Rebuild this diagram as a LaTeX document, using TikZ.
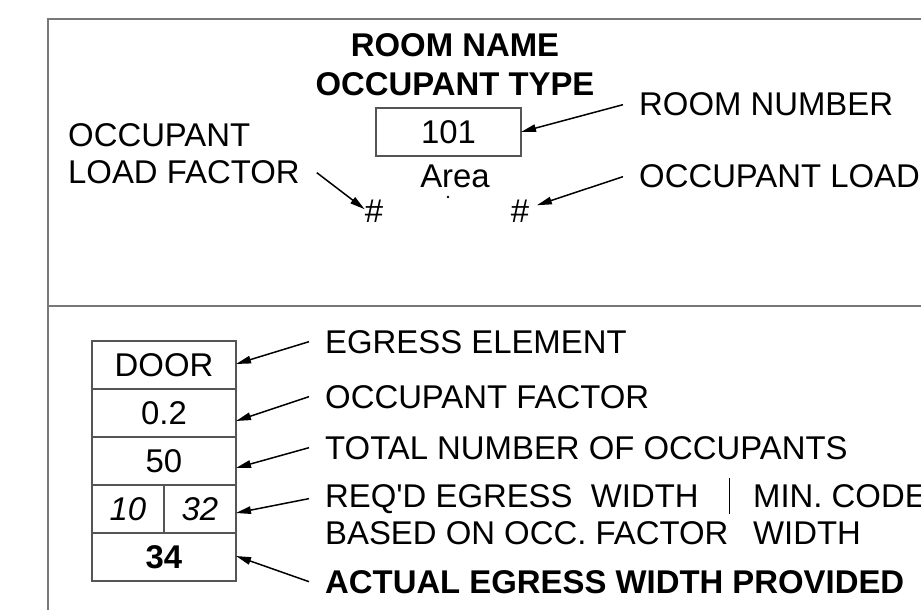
\documentclass[tikz,border=0pt]{standalone}
\usepackage{fontspec}
\setmainfont{Liberation Sans}
\usetikzlibrary{arrows.meta, positioning}
\definecolor{framecol}{RGB}{120,120,120}
\definecolor{cellcol}{RGB}{85,85,85}

\begin{document}
\begin{tikzpicture}[
  x=1bp, y=-1bp,
  lbl/.style={font=\fontsize{33}{39}\selectfont, inner sep=0pt},
  blbl/.style={font=\fontsize{33}{39}\selectfont\bfseries, inner sep=0pt},
  cell/.style={draw=cellcol, line width=1.2bp, inner sep=0pt, outer sep=0pt,
               minimum width=144bp, minimum height=48bp},
  ptr/.style={line width=1.5bp, -{Triangle[length=15bp, width=7.5bp]}}
]
  \useasboundingbox (0,0) rectangle (921,610);
  \clip (0,0) rectangle (921,610);

  % frame
  \draw[framecol, line width=1.8bp] (921,19) -- (48,19) -- (48,610);
  \draw[framecol, line width=1.8bp] (48,306) -- (921,306);

  % room tag
  \node[blbl, anchor=base] (roomname) at (455,57) {ROOM NAME};
  \node[blbl, anchor=base] (occtype) at (455,96) {OCCUPANT TYPE};
  \node[lbl, draw=cellcol, line width=1.1bp, outer sep=0pt,
        minimum width=145bp, minimum height=48bp] (numbox) at (448.5,132)
        {\raisebox{-3bp}{101}};
  \node[lbl, anchor=base] (area) at (455,188) {Area};
  \fill (448,197) circle (1.3bp);
  \node[lbl, anchor=base] (hashl) at (374,223) {\#};
  \node[lbl, anchor=base] (hashr) at (520,223) {\#};

  \node[lbl, anchor=base west] (occlbl) at (68,147) {OCCUPANT};
  \node[lbl, anchor=base west] (loadfac) at (68,184) {LOAD FACTOR};
  \node[lbl, anchor=base west] (roomnum) at (639,116) {ROOM NUMBER};
  \node[lbl, anchor=base west] (occload) at (639,188) {OCCUPANT LOAD};

  \draw[ptr] ([xshift=17bp]loadfac.east) -- ([yshift=2.5bp]hashl.west);
  \draw[ptr] ([xshift=-16bp]roomnum.west) -- (numbox.east);
  \draw[ptr] ([xshift=-16bp]occload.west) -- ([xshift=7.5bp, yshift=6.5bp]hashr.east);

  % egress tag
  \node[cell, lbl] (door) at (164,365) {DOOR};
  \node[cell, lbl, below=0bp of door] (factor) {0.2};
  \node[cell, lbl, below=0bp of factor] (total) {50};
  \node[cell, lbl, minimum width=72bp, below right=0bp and 0bp of total.south west,
        font=\fontsize{33}{39}\selectfont\itshape] (reqa) {10};
  \node[cell, lbl, minimum width=72bp, right=0bp of reqa,
        font=\fontsize{33}{39}\selectfont\itshape] (reqb) {32};
  \node[cell, blbl, below=0bp of reqa.south east] (actual) {34};

  \node[lbl, anchor=base west] (egel) at (325,353) {EGRESS ELEMENT};
  \node[lbl, anchor=base west] (occf) at (325,408) {OCCUPANT FACTOR};
  \node[lbl, anchor=base west] (totn) at (325,459) {TOTAL NUMBER OF OCCUPANTS};
  \node[lbl, anchor=base west] (reqw) at (325,507) {REQ\textquotesingle D EGRESS\ \ WIDTH};
  \node[lbl, anchor=base west] (based) at (325,544) {BASED ON OCC. FACTOR};
  \node[lbl, anchor=base west] (minw) at (753,507) {MIN. CODE};
  \node[lbl, anchor=base west] (minw2) at (753,544) {WIDTH};
  \draw[line width=1bp] (729,478) -- (729,514);
  \node[blbl, anchor=base west] (actl) at (325,593) {ACTUAL EGRESS WIDTH PROVIDED};

  \foreach \lab/\cel/\dy in {egel/door/1, occf/factor/-8, totn/total/-7,
                             reqw/reqb/-4, actl/actual/1}
    \draw[ptr] ([xshift=-16bp]\lab.west) -- ([yshift=\dy bp]\cel.east);

\end{tikzpicture}
\end{document}
